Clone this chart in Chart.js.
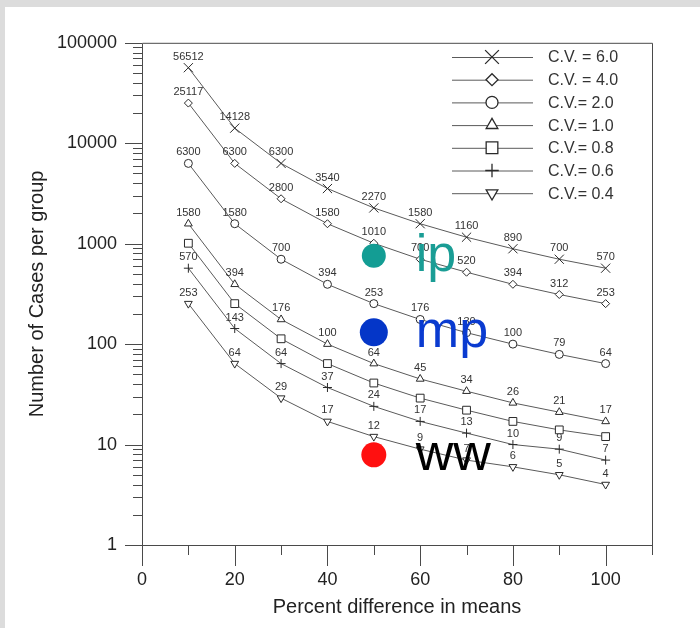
<!DOCTYPE html>
<html>
<head>
<meta charset="utf-8">
<script src="https://cdn.jsdelivr.net/npm/chart.js@4.4.1/dist/chart.umd.min.js"></script>
<style>
    html, body { margin: 0; padding: 0; background: #dcdcdc; }
    #wrap { position: absolute; left: 5px; top: 7px; width: 695px; height: 621px; background: #fff; }
</style>
</head>
<body>
<div id="wrap"><canvas id="chart" width="695" height="621"></canvas></div>
<script>
/* =========================
   DATA
========================= */

const percentDiff = [10, 20, 30, 40, 50, 60, 70, 80, 90, 100];

const seriesNames = ["C.V. = 6.0", "C.V. = 4.0", "C.V.= 2.0", "C.V.= 1.0", "C.V.= 0.8", "C.V.= 0.6", "C.V.= 0.4"];

const cv60 = [56512, 14128, 6300, 3540, 2270, 1580, 1160, 890, 700, 570];
const cv40 = [25117, 6300, 2800, 1580, 1010, 700, 520, 394, 312, 253];
const cv20 = [6300, 1580, 700, 394, 253, 176, 130, 100, 79, 64];
const cv10 = [1580, 394, 176, 100, 64, 45, 34, 26, 21, 17];
const cv08 = [1010, 253, 113, 64, 41, 29, 22, 17, 14, 12];
const cv06 = [570, 143, 64, 37, 24, 17, 13, 10, 9, 7];
const cv04 = [253, 64, 29, 17, 12, 9, 7, 6, 5, 4];

const yTicks = [1, 10, 100, 1000, 10000, 100000];
const xTicks = [0, 20, 40, 60, 80, 100];
const xMinorTicks = [10, 30, 50, 70, 90, 110];

// overlay marks (ip / mp / ww)
const noteLabels = ["ip", "mp", "ww"];
const noteX = [50, 50, 50];
const noteY = [760, 131, 7.9];

/* =========================
   STYLES
========================= */

const allSeries = [cv60, cv40, cv20, cv10, cv08, cv06, cv04];
const markerStyles = ["crossRot", "rectRot", "circle", "triangle", "rect", "cross", "triangle"];
const markerRotation = [0, 0, 0, 0, 0, 0, 180];
const markerRadius = [6.5, 4, 4, 4.5, 5.5, 4.5, 4.5];
const showValues = [true, true, true, true, false, true, true];

const noteColors = ["#139d94", "#0436c8", "#ff1010"];
const noteTextColors = ["#1a9d95", "#0a3bd0", "#000000"];
const noteRadius = [12, 14, 12.5];

const FONT = "'Liberation Sans', Arial, sans-serif";
Chart.defaults.font.family = FONT;

let datasets = allSeries.map((vals, i) => ({
    label: seriesNames[i],
    data: percentDiff.map((x, j) => ({ x: x, y: vals[j] })),
    borderColor: "#5a5a5a",
    borderWidth: 1,
    pointStyle: markerStyles[i],
    rotation: markerRotation[i],
    pointRadius: markerRadius[i],
    pointBorderColor: "#2a2a2a",
    pointBackgroundColor: "#ffffff",
    pointBorderWidth: 1,
    tension: 0,
    showValues: showValues[i],
    order: 0
}));

datasets.push({
    label: "notes",
    data: noteX.map((x, j) => ({ x: x, y: noteY[j] })),
    showLine: false,
    pointStyle: "circle",
    pointRadius: noteRadius,
    pointBackgroundColor: noteColors,
    pointBorderWidth: 0,
    order: -1
});

/* =========================
   PLUGINS
========================= */

// frame + tick marks
const axisFrame = {
    id: "axisFrame",
    beforeDatasetsDraw(chart) {
        const { ctx, chartArea: a, scales: { x, y } } = chart;
        ctx.save();
        ctx.strokeStyle = "#4a4a4a";
        ctx.lineWidth = 1;
        ctx.beginPath();
        ctx.rect(a.left + 0.5, a.top + 0.5, a.right - a.left, a.bottom - a.top);

        yTicks.forEach((v, i) => {
            const py = Math.round(y.getPixelForValue(v)) + 0.5;
            ctx.moveTo(a.left - 17, py);
            ctx.lineTo(a.left, py);
            if (i < yTicks.length - 1) {
                for (let k = 2; k < 10; k++) {
                    const my = Math.round(y.getPixelForValue(v * k)) + 0.5;
                    ctx.moveTo(a.left - 9, my);
                    ctx.lineTo(a.left, my);
                }
            }
        });

        xTicks.forEach(v => {
            const px = Math.round(x.getPixelForValue(v)) + 0.5;
            ctx.moveTo(px, a.bottom);
            ctx.lineTo(px, a.bottom + 21);
        });
        xMinorTicks.forEach(v => {
            const px = Math.round(x.getPixelForValue(v)) + 0.5;
            ctx.moveTo(px, a.bottom);
            ctx.lineTo(px, a.bottom + 10);
        });
        ctx.stroke();
        ctx.restore();
    }
};

// numbers above each point
const valueLabels = {
    id: "valueLabels",
    afterDatasetDraw(chart, args) {
        const ds = chart.data.datasets[args.index];
        if (!ds.showValues) return;
        const ctx = chart.ctx;
        ctx.save();
        ctx.font = "11px " + FONT;
        ctx.fillStyle = "#333";
        ctx.textAlign = "center";
        ctx.textBaseline = "middle";
        args.meta.data.forEach((pt, i) => {
            ctx.fillText(String(ds.data[i].y), pt.x, pt.y - 11);
        });
        ctx.restore();
    }
};

// legend inside the plot + overlay words
const legendAndNotes = {
    id: "legendAndNotes",
    afterDraw(chart) {
        const ctx = chart.ctx;
        const H = Chart.helpers;
        ctx.save();

        seriesNames.forEach((name, i) => {
            const ly = 50 + i * 22.7;
            ctx.strokeStyle = "#5a5a5a";
            ctx.lineWidth = 1;
            ctx.beginPath();
            ctx.moveTo(447, ly + 0.5);
            ctx.lineTo(528, ly + 0.5);
            ctx.stroke();

            ctx.strokeStyle = "#2a2a2a";
            ctx.fillStyle = "#ffffff";
            ctx.lineWidth = 1.3;
            H.drawPoint(ctx, {
                pointStyle: markerStyles[i],
                rotation: markerRotation[i],
                radius: markerRadius[i] * 1.5,
                borderWidth: 1.3
            }, 487, ly);

            ctx.fillStyle = "#333";
            ctx.font = "16px " + FONT;
            ctx.textAlign = "left";
            ctx.textBaseline = "middle";
            ctx.fillText(name, 543, ly + 1);
        });

        const meta = chart.getDatasetMeta(chart.data.datasets.length - 1);
        ctx.font = "52px " + FONT;
        ctx.textAlign = "left";
        ctx.textBaseline = "alphabetic";
        meta.data.forEach((pt, i) => {
            ctx.fillStyle = noteTextColors[i];
            ctx.fillText(noteLabels[i], pt.x + 42, pt.y + 15);
        });
        ctx.restore();
    }
};

/* =========================
   CHART
========================= */

new Chart(document.getElementById("chart"), {
    type: "line",
    data: { datasets: datasets },
    options: {
        responsive: false,
        animation: false,
        layout: { padding: { left: 0, top: 26, right: 48, bottom: 0 } },
        plugins: {
            legend: { display: false },
            tooltip: { enabled: false }
        },
        scales: {
            x: {
                type: "linear",
                min: 0,
                max: 110,
                afterBuildTicks: s => { s.ticks = xTicks.map(v => ({ value: v })); },
                afterFit: s => { s.height = 83; },
                grid: { display: false, drawTicks: false },
                border: { display: false },
                ticks: {
                    padding: 24,
                    color: "#222",
                    font: { size: 18 },
                    maxRotation: 0,
                    callback: v => String(v)
                },
                title: {
                    display: true,
                    text: "Percent difference in means",
                    color: "#222",
                    font: { size: 20 },
                    padding: { top: 0, bottom: 9 }
                }
            },
            y: {
                type: "logarithmic",
                min: 1,
                max: 100000,
                afterBuildTicks: s => { s.ticks = yTicks.map(v => ({ value: v })); },
                afterFit: s => { s.width = 137; },
                grid: { display: false, drawTicks: false },
                border: { display: false },
                ticks: {
                    padding: 25,
                    color: "#222",
                    font: { size: 18 },
                    callback: v => String(v)
                },
                title: {
                    display: true,
                    text: "Number of Cases per group",
                    color: "#222",
                    font: { size: 20 },
                    padding: { top: 20, bottom: 0 }
                }
            }
        }
    },
    plugins: [axisFrame, valueLabels, legendAndNotes]
});
</script>
</body>
</html>
